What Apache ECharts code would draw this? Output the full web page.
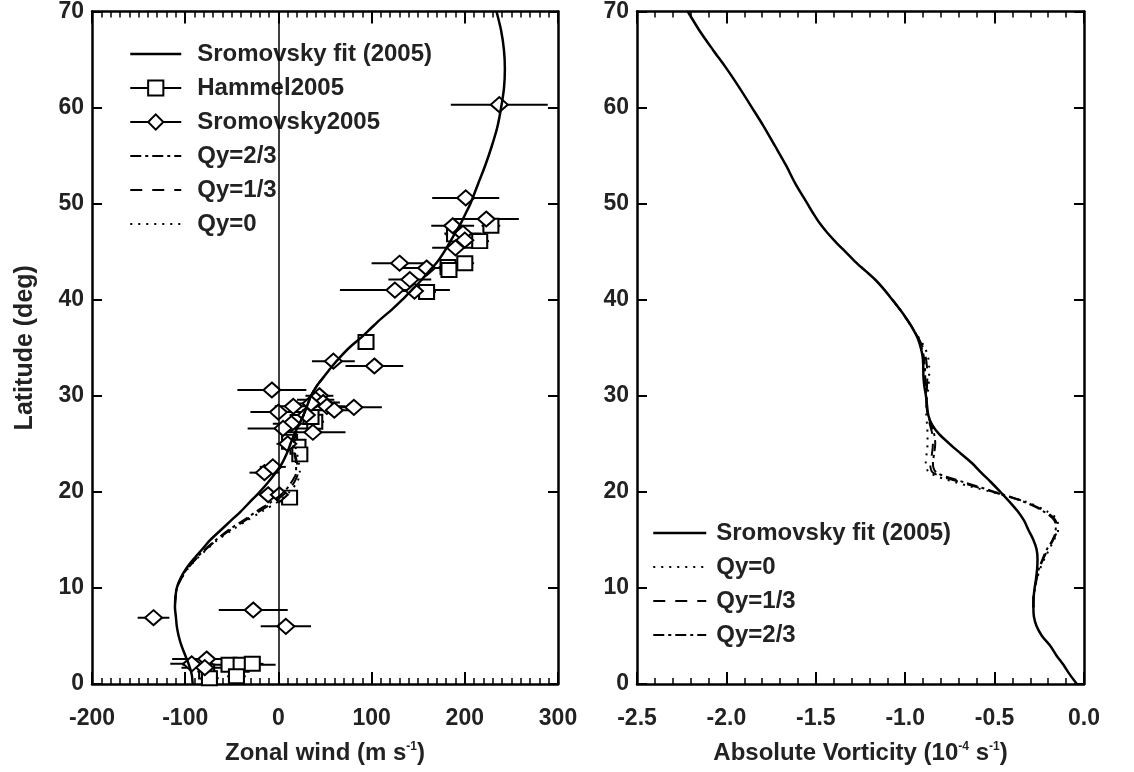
<!DOCTYPE html>
<html><head><meta charset="utf-8">
<script src="https://cdn.jsdelivr.net/npm/echarts@6/dist/echarts.min.js"></script>
<style>html,body{margin:0;padding:0;background:#fff}#c{width:1134px;height:772px}</style>
</head><body><div id="c"></div>
<script>
// ---------------- DATA ----------------
// Left panel: Sromovsky fit (2005) zonal wind profile
const fitLat  = [0,1,2,3,4,5,6,7,8,9,10,11,12,13,14,15,16,17,18,19,20,21,22,23,24,25,26,27,28,29,30,31,32,33,34,35,36,37,38,39,40,41,42,43,44,45,46,47,48,49,50,52,54,56,58,60,62,64,66,68,70];
const fitWind = [-92,-93,-96,-100,-104,-107,-109,-110,-111,-110.5,-109,-105,-99,-91,-82,-73,-62,-51,-40,-30,-20,-11,-3,4,9,13,17,22,27,31,35,41,49,57,66,76,88,99,110,122,133,143,153,162,171,178,184,190,196,201,206,214,222,229,235,239,242,243,242,239,234];

// Left panel: model winds (only where they differ from the fit)
const qyLatL    = [8,9,10,11,12,13,14,15,16,17,18,19,20,21,22,23,24,25,26,27,28,29,30,31,32];
const qy0Wind   = [-111,-110.5,-109,-104,-97,-88,-77,-65,-50,-34,-17,0,12,20,23,22,20,18,19,23,27,31,35,41,49];
const qy13Wind  = [-111,-110.5,-109,-104,-97.5,-88.5,-78,-66,-52,-36,-20,-4,9,17,21,20,18,17,18.5,22.5,27,31,35,41,49];
const qy23Wind  = [-111,-110.5,-109,-104.5,-98,-89,-79,-67,-54,-38,-23,-7,6,14,19,19,17,16,18,22,27,31,35,41,49];

// Hammel 2005 (squares)
const hamWind = [228,216,189,200,182,183,159,94,39,35,12,21,23,12,-53,-40,-28,-77,-45,-74];
const hamLat  = [47.7,46.1,46.8,43.8,43.4,43.1,40.8,35.6,27.3,27.8,25.2,24.7,23.9,19.4,2.0,2.0,2.1,1.3,0.8,0.6];
const hamErr  = [10,10,10,10,10,10,10,5,10,10,8,8,8,8,50,10,12,10,10,10];

// Sromovsky 2005 (diamonds)
const sromWind = [237,201,223,187,198,200,190,130,159,141,125,146,59,103,-7,44,40,48,35,52,16,81,60,0,30,14,5,37,10,-15,-6,-11,1,-134,-27,8,-93,-77,-79];
const sromLat  = [60.3,50.6,48.4,47.7,46.9,46.2,45.4,43.8,43.3,42.1,41.0,40.9,33.6,33.1,30.6,30.0,29.6,29.3,29.2,28.9,28.9,28.8,28.5,28.3,28.0,27.1,26.6,26.2,25.0,22.0,22.6,19.7,19.7,6.9,7.7,6.0,2.1,2.6,1.7];
const sromErr  = [52,36,35,23,20,18,25,30,28,23,59,20,23,31,37,15,20,18,15,20,20,30,25,30,18,20,38,35,12,16,14,8,10,17,37,27,23,37,25];

// Right panel: absolute vorticity (1e-4 s^-1)
const vortLat = [0,1,2,3,4,5,6,7,8,9,10,11,12,13,14,15,16,17,18,19,20,21,22,23,24,25,26,27,28,29,30,31,32,33,34,35,36,37,38,39,40,41,42,43,44,45,46,47,48,49,50,52,54,56,58,60,62,64,66,68,70];
const vortFit = [-0.04,-0.08,-0.115,-0.155,-0.19,-0.235,-0.265,-0.28,-0.283,-0.282,-0.276,-0.268,-0.262,-0.26,-0.265,-0.283,-0.31,-0.335,-0.372,-0.418,-0.468,-0.52,-0.575,-0.627,-0.69,-0.752,-0.81,-0.85,-0.871,-0.878,-0.884,-0.893,-0.898,-0.899,-0.902,-0.913,-0.93,-0.958,-0.992,-1.03,-1.072,-1.115,-1.163,-1.222,-1.282,-1.335,-1.388,-1.437,-1.48,-1.515,-1.547,-1.612,-1.667,-1.728,-1.79,-1.857,-1.925,-1.997,-2.075,-2.15,-2.216];
const qyLatR   = [8,9,10,11,12,13,14,15,16,17,18,19,20,21,22,23,24,25,26,27,28,29,30,31,32,33,34,35,36,37,38,39,40];
const qy0Vort  = [-0.283,-0.282,-0.274,-0.262,-0.245,-0.222,-0.195,-0.168,-0.145,-0.148,-0.21,-0.33,-0.52,-0.72,-0.865,-0.885,-0.88,-0.875,-0.875,-0.878,-0.882,-0.882,-0.876,-0.87,-0.866,-0.866,-0.872,-0.89,-0.922,-0.958,-0.994,-1.03,-1.072];
const qy13Vort = [-0.283,-0.282,-0.275,-0.264,-0.25,-0.228,-0.202,-0.172,-0.152,-0.158,-0.22,-0.335,-0.51,-0.69,-0.845,-0.86,-0.85,-0.845,-0.848,-0.862,-0.875,-0.88,-0.88,-0.878,-0.876,-0.878,-0.885,-0.9,-0.925,-0.956,-0.993,-1.03,-1.072];
const qy23Vort = [-0.283,-0.282,-0.275,-0.265,-0.252,-0.232,-0.208,-0.176,-0.158,-0.165,-0.229,-0.341,-0.5,-0.67,-0.825,-0.845,-0.838,-0.832,-0.838,-0.856,-0.872,-0.88,-0.882,-0.885,-0.888,-0.89,-0.895,-0.908,-0.928,-0.957,-0.992,-1.03,-1.072];

// Tick labels
const windTicks = ['-200','-100','0','100','200','300'];
const vortTicks = ['-2.5','-2.0','-1.5','-1.0','-0.5','0.0'];
const latTicks  = ['0','10','20','30','40','50','60','70'];

// ---------------- CHART ----------------
const FONT = '"Liberation Sans", Arial, Helvetica, sans-serif';
const TXT = '#222';
function txt(extra){ return Object.assign({color:TXT, fontFamily:FONT, fontWeight:'bold', fontSize:23}, extra||{}); }
const zip = (xs, ys) => xs.map((x,i)=>[x, ys[i]]);
const zip3 = (xs, ys, es) => xs.map((x,i)=>[x, ys[i], es[i]]);

const AXL = {show:true, onZero:false, lineStyle:{color:'#000', width:2.5}};

function xAx(grid, pos, min, max, interval, minorSplit, labels, name){
  return {
    type:'value', gridIndex:grid, position:pos, min:min, max:max, interval:interval,
    axisLine:AXL,
    axisTick:{show:true, inside:true, length:12, lineStyle:{color:'#000', width:2}},
    minorTick:{show:true, splitNumber:minorSplit, length:6, lineStyle:{color:'#000', width:1.5}},
    splitLine:{show:false}, minorSplitLine:{show:false},
    axisLabel: labels ? txt({show:true, margin:23, showMinLabel:true, showMaxLabel:true,
      formatter:(v)=>labels[Math.round((v-min)/interval)]}) : {show:false},
    name: name || '', nameLocation:'middle', nameGap:57,
    nameTextStyle: txt({fontSize:24, rich:{sup:{fontSize:12, fontWeight:'bold', fontFamily:FONT, color:TXT, verticalAlign:'top', padding:[0,0,9,0]}}})
  };
}
function yAx(grid, pos, labels, name){
  return {
    type:'value', gridIndex:grid, position:pos, min:0, max:70, interval:10,
    axisLine:AXL,
    axisTick:{show:true, inside:true, length:10, lineStyle:{color:'#000', width:2}},
    splitLine:{show:false},
    axisLabel: labels ? txt({show:true, margin:8, formatter:(v)=>labels[Math.round(v/10)]}) : {show:false},
    name: name || '', nameLocation:'middle', nameGap:54, nameRotate:90,
    nameTextStyle: txt({fontSize:25})
  };
}

const solid = {color:'#000', width:2.5, type:'solid'};
const dot = {color:'#000', width:2, type:[2,6]};
const dash = {color:'#000', width:2, type:[12,10]};
const dashdot = {color:'#000', width:2, type:[11,4,3,4]};

function lineS(name, xi, data, ls, z){
  return {type:'line', name:name, xAxisIndex:xi, yAxisIndex:xi, data:data, symbol:'none',
    smooth:0.3, lineStyle:ls, itemStyle:{color:'#000'}, z:z, silent:true, emphasis:{disabled:true}};
}
function errS(xi, data){
  return {type:'custom', xAxisIndex:xi, yAxisIndex:xi, data:data, silent:true, z:2,
    encode:{x:0, y:1},
    renderItem:function(params, api){
      const x = api.value(0), y = api.value(1), e = api.value(2);
      const p1 = api.coord([x-e, y]), p2 = api.coord([x+e, y]);
      return {type:'line', shape:{x1:p1[0], y1:p1[1], x2:p2[0], y2:p2[1]}, style:{stroke:'#000', lineWidth:2}};
    }};
}
function symS(name, data, sym, size){
  return {type:'line', name:name, xAxisIndex:0, yAxisIndex:0, data:data, symbol:sym, symbolSize:size,
    showSymbol:true, showAllSymbol:true, silent:true, z:3, emphasis:{disabled:true},
    itemStyle:{color:'#000', borderColor:'#000', borderWidth:1.6},
    lineStyle:{opacity:0, width:0, color:'#000'}};
}

const fitL = lineS('Sromovsky fit (2005)', 0, zip(fitWind, fitLat), solid, 6);
fitL.markLine = {silent:true, symbol:'none', animation:false, label:{show:false},
  lineStyle:{color:'#000', width:1.5, type:'solid'}, data:[{xAxis:0}]};

const noSym = {opacity:0};
const fitLeg = {name:'Sromovsky fit (2005)', itemStyle:noSym, lineStyle:{width:2.5}};
const option = {
  animation:false,
  backgroundColor:'#fff',
  grid:[{left:92, top:7, width:466, height:677}, {left:637, top:7, width:447, height:677}],
  xAxis:[
    xAx(0,'bottom',-200,300,100,10,windTicks,'Zonal wind (m s{sup|-1})'),
    xAx(0,'top',-200,300,100,10,null,null),
    xAx(1,'bottom',-2.5,0,0.5,5,vortTicks,'Absolute Vorticity (10{sup|-4} s{sup|-1})'),
    xAx(1,'top',-2.5,0,0.5,5,null,null)
  ],
  yAxis:[
    yAx(0,'left',latTicks,'Latitude (deg)'),
    yAx(0,'right',null,null),
    yAx(1,'left',latTicks,null),
    yAx(1,'right',null,null)
  ],
  legend:[
    {left:124, top:37, orient:'vertical', itemWidth:51, itemHeight:19, itemGap:10, selectedMode:false,
     data:[fitLeg, {name:'Hammel2005'}, {name:'Sromovsky2005'},
           {name:'Qy=2/3', itemStyle:noSym}, {name:'Qy=1/3', itemStyle:noSym}, {name:'Qy=0', itemStyle:noSym}],
     textStyle:txt({fontSize:24, padding:[0,0,0,11]}), lineStyle:{width:2, color:'#000', opacity:1}},
    {left:647, top:516, orient:'vertical', itemWidth:53, itemHeight:19, itemGap:10, selectedMode:false,
     data:[fitLeg, {name:'Qy=0', itemStyle:noSym},
           {name:'Qy=1/3', itemStyle:noSym}, {name:'Qy=2/3', itemStyle:noSym}],
     textStyle:txt({fontSize:24, padding:[0,0,0,5]}), lineStyle:{width:2, color:'#000', opacity:1}}
  ],
  series:[
    fitL,
    errS(0, zip3(hamWind, hamLat, hamErr)),
    errS(0, zip3(sromWind, sromLat, sromErr)),
    symS('Hammel2005', zip(hamWind, hamLat), 'emptyRect', [15,14]),
    symS('Sromovsky2005', zip(sromWind, sromLat), 'emptyDiamond', [17,15]),
    lineS('Qy=2/3', 0, zip(qy23Wind, qyLatL), dashdot, 5),
    lineS('Qy=1/3', 0, zip(qy13Wind, qyLatL), dash, 5),
    lineS('Qy=0', 0, zip(qy0Wind, qyLatL), dot, 5),
    lineS('Sromovsky fit (2005)', 2, zip(vortFit, vortLat), solid, 6),
    lineS('Qy=0', 2, zip(qy0Vort, qyLatR), dot, 5),
    lineS('Qy=1/3', 2, zip(qy13Vort, qyLatR), dash, 5),
    lineS('Qy=2/3', 2, zip(qy23Vort, qyLatR), dashdot, 5)
  ]
};
const chart = echarts.init(document.getElementById('c'), null, {renderer:'canvas'});
chart.setOption(option);
</script></body></html>
